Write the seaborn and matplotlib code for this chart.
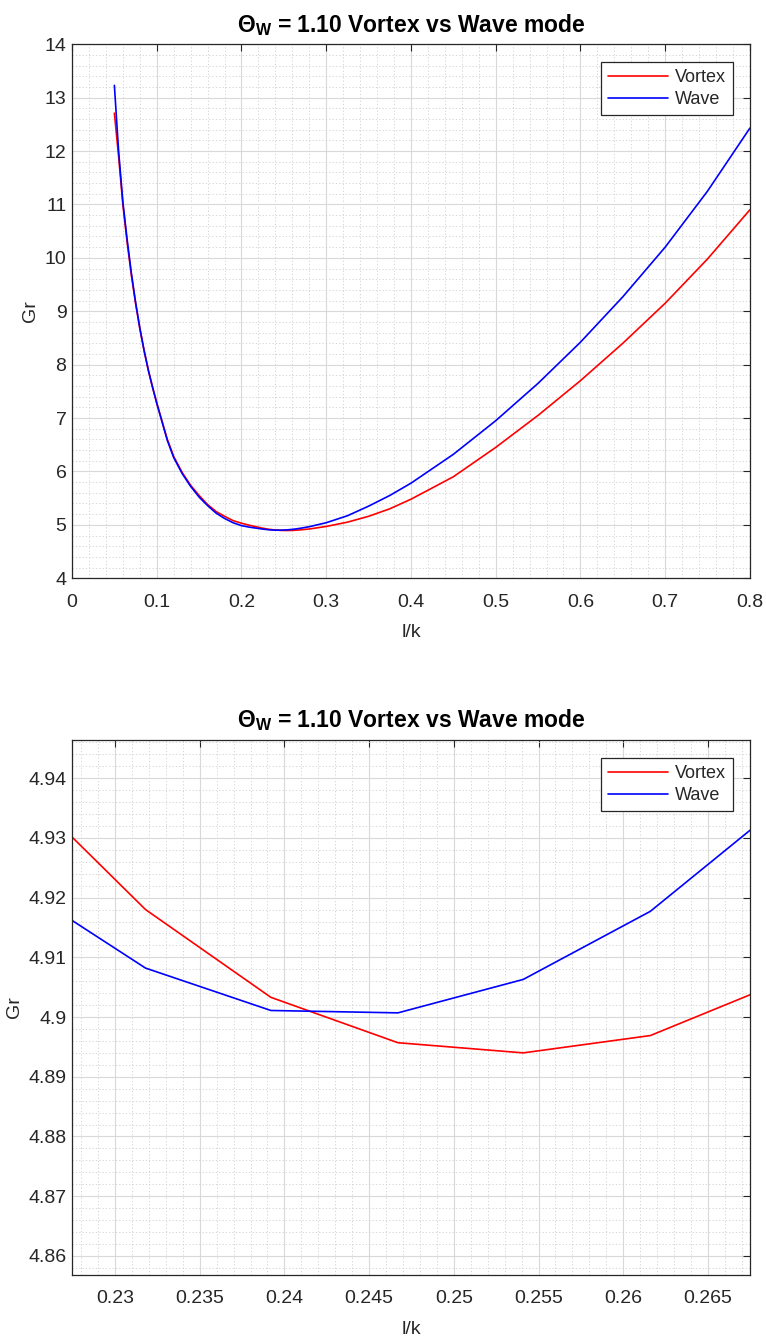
import numpy as np
import pandas as pd
import matplotlib
matplotlib.use("Agg")
import matplotlib.pyplot as plt
from matplotlib.ticker import MultipleLocator
import seaborn as sns

# Gr against l/k (one set of points, finer near the minimum)
lk = [0.05, 0.055, 0.06, 0.065, 0.07, 0.075, 0.08, 0.085, 0.09, 0.095, 0.10, 0.1125, 0.12,
      0.13, 0.14, 0.15, 0.16, 0.17, 0.18, 0.19, 0.20, 0.21,
      0.2243, 0.2318, 0.2392, 0.2467, 0.2541, 0.2616, 0.2691,
      0.28, 0.30, 0.325, 0.35, 0.375, 0.40, 0.45, 0.50, 0.55, 0.60, 0.65, 0.70, 0.75, 0.80]
gr_vortex = [12.71, 11.9, 11.0, 10.3, 9.68, 9.15, 8.68, 8.27, 7.9, 7.58, 7.28, 6.6, 6.28,
             5.98, 5.74, 5.55, 5.38, 5.25, 5.16, 5.08, 5.03, 4.99,
             4.939, 4.918, 4.9033, 4.8957, 4.8940, 4.8969, 4.9056,
             4.922, 4.97, 5.05, 5.16, 5.3, 5.48, 5.9, 6.45, 7.05, 7.7, 8.4, 9.15, 9.98, 10.9]
gr_wave = [13.23, 12.0, 11.05, 10.35, 9.72, 9.17, 8.69, 8.27, 7.9, 7.58, 7.28, 6.58, 6.26,
           5.96, 5.72, 5.52, 5.36, 5.22, 5.12, 5.04, 4.985, 4.955,
           4.922, 4.9082, 4.9011, 4.9007, 4.9063, 4.9177, 4.935,
           4.965, 5.04, 5.17, 5.35, 5.55, 5.78, 6.32, 6.95, 7.65, 8.42, 9.27, 10.2, 11.25, 12.43]

modes = ["Vortex", "Wave"]
colors = {"Vortex": "red", "Wave": "blue"}

df = pd.DataFrame({
    "l/k": lk * 2,
    "Gr": gr_vortex + gr_wave,
    "mode": ["Vortex"] * len(lk) + ["Wave"] * len(lk),
})

sns.set_theme(style="white")
plt.rcParams["font.family"] = ["Liberation Sans", "DejaVu Sans"]
plt.rcParams["mathtext.fontset"] = "custom"
plt.rcParams["mathtext.rm"] = "Liberation Sans"
plt.rcParams["mathtext.bf"] = "Liberation Sans:bold"

title = r"$\mathbf{\Theta_W}$ = 1.10 Vortex vs Wave mode"
dark = "#262626"

fig = plt.figure(figsize=(7.66, 13.41), dpi=100)
ax1 = fig.add_axes([0.094, 0.5688, 0.885, 0.3982])
ax2 = fig.add_axes([0.094, 0.0492, 0.885, 0.3990])


def style_axes(ax, xlim, ylim, xmaj, xmin, ymaj, ymin):
    ax.set_xlim(*xlim)
    ax.set_ylim(*ylim)
    ax.xaxis.set_major_locator(MultipleLocator(xmaj))
    ax.xaxis.set_minor_locator(MultipleLocator(xmin))
    ax.yaxis.set_major_locator(MultipleLocator(ymaj))
    ax.yaxis.set_minor_locator(MultipleLocator(ymin))
    ax.grid(which="major", color="#d9d9d9", linewidth=0.8, linestyle="-")
    ax.grid(which="minor", color="#cfcfcf", linewidth=0.6, linestyle=(0, (1.5, 2.5)))
    ax.set_axisbelow(True)
    ax.tick_params(which="major", direction="in", length=5, width=0.8, colors=dark,
                   labelsize=14, top=True, right=True, labelcolor=dark)
    ax.tick_params(axis="x", which="major", pad=11)
    ax.tick_params(axis="y", which="major", pad=4)
    ax.tick_params(which="minor", length=0)
    for s in ax.spines.values():
        s.set_color(dark)
        s.set_linewidth(0.9)
    ax.set_xlabel("l/k", fontsize=14, color=dark, labelpad=10)
    ax.set_ylabel("Gr", fontsize=14, color=dark, labelpad=4)
    ax.set_title(title, fontsize=16.5, fontweight="bold", color="black", pad=9)
    leg = ax.legend(handles=ax.get_lines()[:2], labels=modes, loc="upper right",
                    fontsize=13, frameon=True, fancybox=False, framealpha=1,
                    edgecolor=dark, borderpad=0.38, handlelength=3.3, handletextpad=0.4,
                    borderaxespad=0, bbox_to_anchor=(0.975, 0.966), labelspacing=0.28)
    leg.get_frame().set_linewidth(0.9)


for ax in (ax1, ax2):
    sns.lineplot(data=df, x="l/k", y="Gr", hue="mode", palette=colors, ax=ax,
                 linewidth=1.2, legend=False, sort=False)

style_axes(ax1, (0, 0.8), (4, 14), 0.1, 0.02, 1, 0.2)
style_axes(ax2, (0.22746, 0.26748), (4.8568, 4.9464), 0.005, 0.001, 0.01, 0.002)
ax1.set_xticklabels([f"{t:g}" for t in ax1.get_xticks()])
ax2.set_xticklabels([f"{t:g}" for t in ax2.get_xticks()])
ax2.set_yticklabels([f"{t:g}" for t in ax2.get_yticks()])

fig.savefig("out.png", dpi=100)
